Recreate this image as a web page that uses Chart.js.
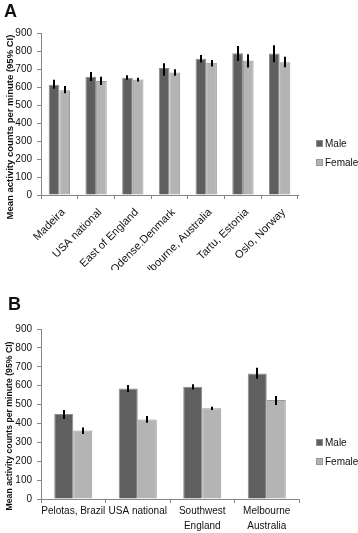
<!DOCTYPE html>
<html>
<head>
<meta charset="utf-8">
<script src="https://cdn.jsdelivr.net/npm/chart.js@4.4.1/dist/chart.umd.min.js"></script>
<style>
  body { margin: 0; background: #fff; width: 358px; height: 533px; position: relative; overflow: hidden; font-family: 'Liberation Sans', Arial, sans-serif; }
  .box { position: absolute; left: 0; width: 358px; }
  .box canvas { display: block; }
  #boxA { top: 0; height: 270px; }
  #boxB { top: 270px; height: 263px; }
  .panel { position: absolute; font-weight: bold; font-size: 18px; line-height: 1; color: #111; }
  .ytitle { position: absolute; font-weight: bold; white-space: nowrap; color: #111; transform: translate(-50%, -50%) rotate(-90deg); }
</style>
</head>
<body>
<div class="box" id="boxA"><canvas id="chartA" width="358" height="270"></canvas></div>
<div class="box" id="boxB"><canvas id="chartB" width="358" height="263"></canvas></div>
<div class="panel" style="left:4px;top:2px">A</div>
<div class="panel" style="left:8px;top:295px">B</div>
<div class="ytitle" style="left:9px;top:127px;font-size:9.5px">Mean activity counts per minute (95% CI)</div>
<div class="ytitle" style="left:9px;top:426px;font-size:8.7px">Mean activity counts per minute (95% CI)</div>
<script>
// panel A
const regionsA = ['Madeira', 'USA national', 'East of England', 'Odense.Denmark',
    'Melbourne, Australia', 'Tartu, Estonia', 'Oslo, Norway'];
const maleA = [612, 657, 652, 705, 757, 788, 786];
const femaleA = [582, 633, 641, 680, 735, 747, 737];
const maleCiA = [[590, 640], [633, 683], [640, 665], [662, 732], [736, 778], [745, 828], [738, 832]];
const femaleCiA = [[565, 605], [611, 657], [631, 651], [662, 698], [714, 750], [708, 782], [710, 768]];

// panel B
const regionsB = ['Pelotas, Brazil', 'USA national', ['Southwest', 'England'], ['Melbourne', 'Australia']];
const maleB = [450, 585, 594, 665];
const femaleB = [362, 421, 480, 524];
const maleCiB = [[424, 471], [566, 603], [580, 607], [636, 695]];
const femaleCiB = [[344, 379], [404, 439], [471, 489], [498, 545]];

const yTicks = [0, 100, 200, 300, 400, 500, 600, 700, 800, 900];

const axisGray = '#868686';
const textColor = '#111';

// error bars drawn from the ci arrays through the y scale
const errorBars = {
    id: 'errorBars',
    afterDatasetsDraw(chart) {
        const ctx = chart.ctx;
        const y = chart.scales.y;
        ctx.save();
        ctx.strokeStyle = '#000';
        ctx.lineWidth = 2;
        chart.data.datasets.forEach((ds, i) => {
            chart.getDatasetMeta(i).data.forEach((bar, j) => {
                const ci = ds.ci[j];
                ctx.beginPath();
                ctx.moveTo(Math.round(bar.x), y.getPixelForValue(ci[0]));
                ctx.lineTo(Math.round(bar.x), y.getPixelForValue(ci[1]));
                ctx.stroke();
            });
        });
        ctx.restore();
    }
};

// small legend on the right side
const sideLegend = {
    id: 'sideLegend',
    afterDraw(chart, args, opts) {
        const ctx = chart.ctx;
        ctx.save();
        ctx.font = '10px "Liberation Sans", Arial, sans-serif';
        ctx.textBaseline = 'middle';
        chart.data.datasets.forEach((ds, i) => {
            const yy = opts.y + i * opts.gap;
            ctx.fillStyle = ds.backgroundColor;
            ctx.fillRect(opts.x, yy - 3, 7, 7);
            ctx.strokeStyle = ds.borderColor;
            ctx.lineWidth = 1;
            ctx.strokeRect(opts.x + 0.5, yy - 2.5, 6, 6);
            ctx.fillStyle = textColor;
            ctx.fillText(ds.label, opts.x + 9, yy + 1);
        });
        ctx.restore();
    }
};

function buildChart(id, labels, male, female, maleCi, femaleCi, cfg) {
    return new Chart(document.getElementById(id), {
        type: 'bar',
        data: {
            labels: labels,
            datasets: [
                {
                    label: 'Male',
                    data: male,
                    ci: maleCi,
                    backgroundColor: '#5f5f5f',
                    borderColor: '#8c8c8c',
                    borderWidth: 1,
                    categoryPercentage: cfg.catPct,
                    barPercentage: 1
                },
                {
                    label: 'Female',
                    data: female,
                    ci: femaleCi,
                    backgroundColor: '#b4b4b4',
                    borderColor: '#979797',
                    borderWidth: 1,
                    categoryPercentage: cfg.catPct,
                    barPercentage: 1
                }
            ]
        },
        options: {
            responsive: false,
            animation: false,
            layout: {
                padding: { top: cfg.top, right: cfg.right, left: 0, bottom: 0 }
            },
            plugins: {
                legend: { display: false },
                tooltip: { enabled: false },
                sideLegend: { x: 316, y: cfg.legendY, gap: 19 }
            },
            scales: {
                x: {
                    afterFit: (scale) => { scale.height = cfg.xHeight; },
                    border: { color: axisGray, width: 1 },
                    grid: { drawOnChartArea: false, color: axisGray, tickLength: 4 },
                    ticks: {
                        autoSkip: false,
                        minRotation: cfg.rot,
                        maxRotation: cfg.rot,
                        padding: cfg.xPad,
                        labelOffset: cfg.xShift,
                        color: textColor,
                        font: { family: 'Liberation Sans', size: cfg.xFont, lineHeight: 1.45 }
                    }
                },
                y: {
                    min: 0,
                    max: 900,
                    afterFit: (scale) => { scale.width = 41; },
                    afterBuildTicks: (scale) => { scale.ticks = yTicks.map(v => ({ value: v })); },
                    border: { color: axisGray, width: 1 },
                    grid: { drawOnChartArea: false, color: axisGray, tickLength: 4 },
                    ticks: {
                        padding: 5,
                        color: textColor,
                        font: { family: 'Liberation Sans', size: 10 }
                    }
                }
            }
        },
        plugins: [errorBars, sideLegend]
    });
}

buildChart('chartA', regionsA, maleA, femaleA, maleCiA, femaleCiA,
    { top: 33, right: 60, xHeight: 75, rot: 45, catPct: 0.58, legendY: 143,
      xPad: 6, xShift: 4, xFont: 11 });

buildChart('chartB', regionsB, maleB, femaleB, maleCiB, femaleCiB,
    { top: 59, right: 59, xHeight: 34, rot: 0, catPct: 0.59, legendY: 172,
      xPad: 1, xShift: 0, xFont: 10 });
</script>
</body>
</html>
